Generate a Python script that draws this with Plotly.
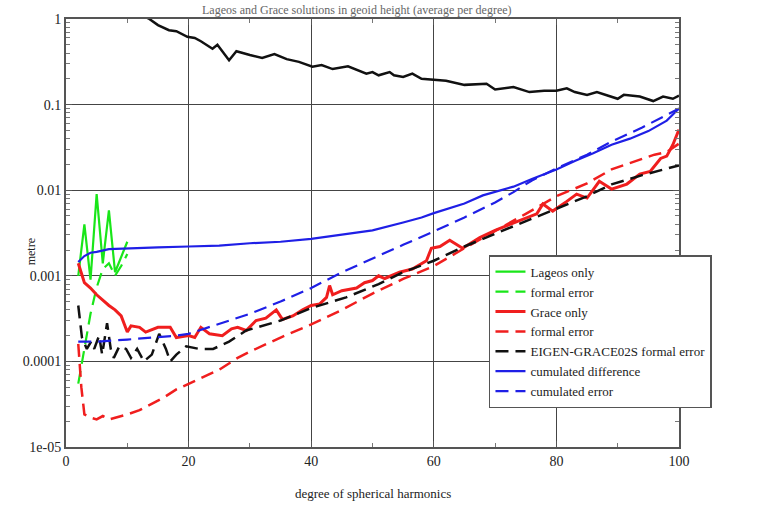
import plotly.graph_objects as go

# ---------------- data ----------------
sig_deg = [12, 13.6, 15, 16.8, 18, 19.8, 21, 22, 23.9, 24.7, 26.6, 27.8, 30, 32, 34, 36, 38,
           40.2, 41.7, 43.5, 46, 49, 50, 51, 52.8, 53.5, 55, 56.5, 58, 60, 62, 65, 68.6, 70,
           73, 75.6, 78, 80, 81.7, 83, 85, 86.6, 88, 90, 91, 93.6, 95.8, 97.4, 99, 100]
sig_val = [1.15, 1.0, 0.85, 0.74, 0.72, 0.62, 0.6, 0.55, 0.45, 0.5, 0.33, 0.42, 0.38, 0.35,
           0.39, 0.34, 0.316, 0.277, 0.29, 0.26, 0.28, 0.23, 0.24, 0.22, 0.24, 0.22, 0.21,
           0.23, 0.2, 0.195, 0.19, 0.17, 0.175, 0.15, 0.16, 0.14, 0.145, 0.145, 0.155, 0.14,
           0.13, 0.14, 0.13, 0.117, 0.13, 0.124, 0.11, 0.124, 0.117, 0.127]

lag_deg = [2, 3, 4, 5, 6, 7, 8, 9, 10]
lag_val = [0.001, 0.004, 0.0009, 0.009, 0.0014, 0.0058, 0.0011, 0.0017, 0.0025]
lag_err = [5.5e-5, 0.00014, 0.00036, 0.00073, 0.0012, 0.0014, 0.001, 0.0013, 0.0018]

gra_deg = [2, 3, 4, 5, 6, 7, 8, 9, 10, 10.6, 12, 13, 15, 17, 18, 20, 21, 22, 23.4, 25.5, 27,
           28, 29.4, 31, 32.6, 34.3, 35.3, 37, 38.6, 40, 41.4, 42.5, 43, 43.5, 45, 47.4, 48.7,
           50, 51, 52, 54.4, 56.5, 58.8, 59.6, 61, 62.6, 64.7, 67.5, 70, 73, 75, 76.8, 77.8,
           79.4, 81.7, 83.3, 85, 87, 89, 91.5, 93.6, 95.3, 97, 98, 99, 100]
gra_val = [0.0014, 0.00083, 0.00072, 0.0006, 0.00052, 0.00045, 0.0004, 0.00034, 0.00022,
           0.00026, 0.00025, 0.00022, 0.00025, 0.00025, 0.00019, 0.0002, 0.00019, 0.00025,
           0.00021, 0.0002, 0.00024, 0.00025, 0.00023, 0.0003, 0.00032, 0.0004, 0.00031,
           0.00034, 0.0004, 0.00045, 0.00047, 0.00056, 0.00077, 0.0006, 0.00067, 0.00072,
           0.00083, 0.00088, 0.001, 0.00093, 0.0011, 0.0012, 0.0015, 0.0021, 0.0022, 0.0026,
           0.0021, 0.0028, 0.0034, 0.0041, 0.0047, 0.0053, 0.0069, 0.0057, 0.0074, 0.009,
           0.0081, 0.0127, 0.0103, 0.0118, 0.0154, 0.0166, 0.0235, 0.025, 0.034, 0.051]

gerr_deg = [2, 2.5, 3, 4, 5, 6, 7, 8, 10, 12, 14, 16, 18, 20, 25, 28, 30, 35, 40, 45, 50, 55,
            60, 65, 70, 75, 80, 85, 89, 93, 96, 98, 100]
gerr_val = [0.00016, 5e-5, 2.4e-5, 2.2e-5, 2.1e-5, 2.3e-5, 2.1e-5, 2.2e-5, 2.4e-5, 2.7e-5,
            3.2e-5, 3.8e-5, 4.7e-5, 5.5e-5, 8e-5, 0.00011, 0.00013, 0.00019, 0.00027, 0.0004,
            0.00062, 0.00092, 0.0013, 0.0021, 0.0033, 0.0053, 0.0085, 0.012, 0.0175, 0.022,
            0.026, 0.028, 0.035]

eig_deg = [2, 2.3, 2.6, 3.4, 4.1, 4.6, 5.4, 5.9, 6.7, 7.3, 7.8, 8.7, 9.8, 10.6, 11.6, 12.7, 14,
           15.2, 16.3, 17, 18, 19.6, 21.7, 24, 26.6, 29.4, 35, 40, 45.7, 51, 55, 60, 65, 70,
           73, 76, 80, 85, 89, 94, 100]
eig_val = [0.00045, 0.00027, 0.00019, 0.00014, 0.00017, 0.00014, 0.0002, 0.00012, 0.00028,
           0.00014, 0.00011, 0.00015, 0.00014, 0.00011, 0.00014, 0.0001, 0.00012, 0.00021,
           0.00014, 0.0001, 0.00012, 0.00015, 0.00014, 0.00014, 0.00017, 0.00023, 0.0003,
           0.00042, 0.00056, 0.0008, 0.0011, 0.0015, 0.0022, 0.0031, 0.0038, 0.0046, 0.006,
           0.0085, 0.0117, 0.015, 0.0195]

cum_deg = [2, 3, 4, 5, 7, 10, 15, 20, 25, 30, 35, 40, 45, 50, 55, 58, 60, 62, 65, 68, 70, 73,
           76, 80, 83, 86, 89, 92, 95, 98, 100]
cum_val = [0.00145, 0.0017, 0.00186, 0.0019, 0.00205, 0.0021, 0.00215, 0.0022, 0.00225,
           0.0024, 0.0025, 0.0027, 0.003, 0.0034, 0.0042, 0.0048, 0.0054, 0.006, 0.007,
           0.0087, 0.0095, 0.011, 0.0135, 0.0175, 0.022, 0.027, 0.034, 0.04, 0.049, 0.065, 0.09]

cerr_deg = [2, 5, 10, 15, 18, 20, 24, 30, 35, 40, 45, 50, 55, 60, 65, 70, 73, 76, 80, 85, 89,
            94, 98, 100]
cerr_val = [0.00017, 0.00017, 0.00018, 0.00019, 0.0002, 0.00021, 0.00026, 0.00036, 0.0005,
            0.00072, 0.0011, 0.0016, 0.0023, 0.0033, 0.0048, 0.0072, 0.0095, 0.013, 0.018,
            0.026, 0.037, 0.054, 0.076, 0.09]

names = ["Lageos only", "formal error", "Grace only", "formal error",
         "EIGEN-GRACE02S formal error", "cumulated difference", "cumulated error"]
y_tick_vals = [1e-5, 1e-4, 1e-3, 1e-2, 1e-1, 1]
y_tick_text = ["1e-05", "0.0001", "0.001", "0.01", "0.1", "1"]
x_tick_vals = [0, 20, 40, 60, 80, 100]

GREEN = "#19e619"
RED = "#f01e1e"
BLUE = "#1f1fe6"
BLACK = "#111111"
DASH = "13px,7px"
FONT = "Liberation Serif, Times New Roman, serif"

fig = go.Figure()
fig.add_trace(go.Scatter(x=sig_deg, y=sig_val, mode="lines", showlegend=False,
                         line=dict(color=BLACK, width=2.5)))
fig.add_trace(go.Scatter(x=lag_deg, y=lag_val, mode="lines", name=names[0],
                         line=dict(color=GREEN, width=2.2)))
fig.add_trace(go.Scatter(x=lag_deg, y=lag_err, mode="lines", name=names[1],
                         line=dict(color=GREEN, width=2.2, dash=DASH)))
fig.add_trace(go.Scatter(x=gra_deg, y=gra_val, mode="lines", name=names[2],
                         line=dict(color=RED, width=3)))
fig.add_trace(go.Scatter(x=gerr_deg, y=gerr_val, mode="lines", name=names[3],
                         line=dict(color=RED, width=2.5, dash=DASH)))
fig.add_trace(go.Scatter(x=eig_deg, y=eig_val, mode="lines", name=names[4],
                         line=dict(color=BLACK, width=2.5, dash=DASH)))
fig.add_trace(go.Scatter(x=cum_deg, y=cum_val, mode="lines", name=names[5],
                         line=dict(color=BLUE, width=2.2)))
fig.add_trace(go.Scatter(x=cerr_deg, y=cerr_val, mode="lines", name=names[6],
                         line=dict(color=BLUE, width=2.2, dash=DASH)))

minor_y = [m * 10 ** e for e in range(-5, 0) for m in range(2, 10)]

fig.update_layout(
    width=760, height=507,
    margin=dict(l=66, r=81, t=17, b=60),
    paper_bgcolor="white", plot_bgcolor="white",
    font=dict(family=FONT, size=14, color="#222"),
    showlegend=True,
    legend=dict(x=0.69, y=0.448, xanchor="left", yanchor="top",
                bgcolor="white", bordercolor="#555", borderwidth=1.5,
                font=dict(family=FONT, size=13, color="#222"),
                tracegroupgap=0, itemwidth=30),
    xaxis=dict(range=[0, 100], tickvals=x_tick_vals, showgrid=True,
               gridcolor="#444", gridwidth=1.2, showline=True, linecolor="#555",
               linewidth=2, mirror="allticks", ticks="inside", ticklen=6,
               tickcolor="#555", zeroline=False,
               minor=dict(tickvals=[10, 30, 50, 70, 90], ticks="inside", ticklen=4,
                          tickcolor="#777", showgrid=False),
               tickfont=dict(family=FONT, size=14)),
    yaxis=dict(type="log", range=[-5, 0], tickvals=y_tick_vals, ticktext=y_tick_text,
               showgrid=True, gridcolor="#444", gridwidth=1.2, showline=True,
               linecolor="#555", linewidth=2, mirror="allticks", ticks="inside",
               ticklen=6, tickcolor="#555", zeroline=False,
               minor=dict(tickvals=minor_y, ticks="inside", ticklen=4, tickcolor="#777",
                          showgrid=False),
               tickfont=dict(family=FONT, size=14)),
)

fig.add_annotation(text="metre", xref="paper", yref="paper", x=-0.057, y=0.455,
                   textangle=-90, showarrow=False, xanchor="center", yanchor="middle",
                   font=dict(family=FONT, size=12, color="#222"))
fig.add_annotation(text="degree of spherical harmonics", xref="paper", yref="paper",
                   x=0.5, y=-0.108, showarrow=False, xanchor="center", yanchor="middle",
                   font=dict(family=FONT, size=13, color="#222"))
fig.add_annotation(text="Lageos and Grace solutions in geoid height (average per degree)",
                   xref="paper", yref="paper", x=0.475, y=1.0395, showarrow=False,
                   xanchor="center", yanchor="top", borderpad=0,
                   font=dict(family=FONT, size=12, color="#666"))

fig.write_html("out.html")
